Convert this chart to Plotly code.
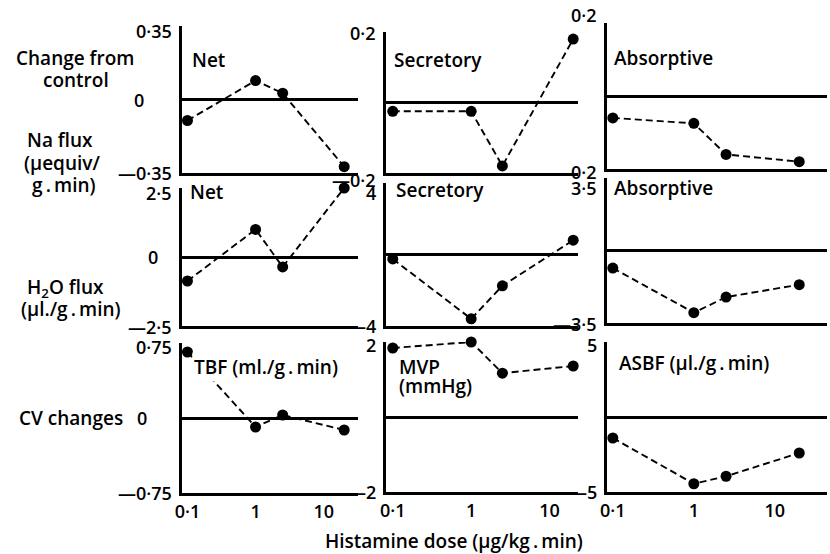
import plotly.graph_objects as go

W, H = 830, 554

# Histamine infusion rates (µg/kg.min)
dose = [0.1, 1, 2.5, 20]

# Na flux, change from control (µequiv/g.min)
na_net = [-0.10, 0.09, 0.03, -0.32]
na_secretory = [-0.025, -0.025, -0.18, 0.18]
na_absorptive = [-0.06, -0.075, -0.16, -0.18]

# H2O flux, change from control (µl./g.min)
h2o_net = [-0.87, 1.0, -0.36, 2.5]
h2o_secretory = [-0.25, -3.6, -1.75, 0.8]
h2o_absorptive = [-0.85, -3.0, -2.25, -1.65]

# Cardiovascular changes
tbf = [0.66, -0.09, 0.03, -0.12]
mvp = [1.84, 2.0, 1.17, 1.36]
asbf = [-1.4, -4.45, -3.95, -2.4]

series = [[na_net, na_secretory, na_absorptive],
          [h2o_net, h2o_secretory, h2o_absorptive],
          [tbf, mvp, asbf]]

# symmetric y limits per panel
y_limits = [[0.35, 0.2, 0.2],
            [2.5, 4, 3.5],
            [0.75, 2, 5]]

x_tick_vals = [0.1, 1, 10]
x_tick_text = ["0·1", "1", "10"]

TS = "\u2009"  # thin space around the multiplication dot in units
panel_titles = [["Net", "Secretory", "Absorptive"],
                ["Net", "Secretory", "Absorptive"],
                [f"TBF (ml./g{TS}.{TS}min)", "MVP", f"ASBF (μl./g{TS}.{TS}min)"]]
extra_titles = [("(mmHg)", 393, 386)]

row_labels = [
    ("Change from", 69, 58), ("control", 70, 80),
    ("Na flux", 53, 140), ("(μequiv/", 55, 163), (f"g{TS}.{TS}min)", 57, 185),
    ("H<sub>2</sub>O flux", 59, 288), (f"(μl./g{TS}.{TS}min)", 65, 309),
    ("CV changes", 65, 418),
]

# layout geometry (pixels)
col_px = [(176, 354), (382, 576), (605, 827)]
col_logrange = [(-1.087, 1.504), (-1.089, 1.364), (-1.073, 1.644)]
panel_ypx = [[(173, 26), (173, 32), (169, 23)],
             [(326, 188), (326, 183), (323, 178)],
             [(493, 343), (492, 342), (492, 342)]]
# vertical nudges (px, up positive) of the top / bottom value labels
label_shift = [[(-5, 0), (-1, -7), (8, -3)],
               [(-5, -1), (-10, 0), (-10, -1)],
               [(-4, 0), (-3, 0), (-3, 0)]]
title_px = [[(185, 60), (388, 60), (610, 58)],
            [(183, 192), (390, 190), (610, 188)],
            [(187, 367), (393, 367), (615, 363)]]
zero_label_px = [(133, 100), (147, 257), (136, 418)]

FONT = "Open Sans"
INK = "black"


def fmt(v):
    s = f"{abs(v):g}".replace(".", "·")
    return ("—" + s) if v < 0 else s


def txt_font(size):
    return dict(family=FONT, size=size, color=INK, weight=600)


fig = go.Figure()
layout = {}
annotations = []

for r in range(3):
    for c in range(3):
        k = r * 3 + c + 1
        xa = "x" if k == 1 else f"x{k}"
        ya = "y" if k == 1 else f"y{k}"
        A = y_limits[r][c]
        x0, x1 = col_px[c]
        yb, yt = panel_ypx[r][c]

        fig.add_trace(go.Scatter(
            x=dose, y=series[r][c], xaxis=xa, yaxis=ya,
            mode="lines+markers", cliponaxis=False, showlegend=False,
            line=dict(color=INK, width=1.9, dash="7px,4px"),
            marker=dict(color=INK, size=11),
        ))

        layout["xaxis" if k == 1 else f"xaxis{k}"] = dict(
            type="log", range=list(col_logrange[c]),
            domain=[x0 / W, x1 / W], anchor=ya,
            showline=True, linecolor=INK, linewidth=3,
            showgrid=False, zeroline=False, ticks="",
            tickvals=x_tick_vals, ticktext=x_tick_text,
            showticklabels=(r == 2), ticklabelstandoff=0,
            tickfont=txt_font(18),
        )
        layout["yaxis" if k == 1 else f"yaxis{k}"] = dict(
            range=[-A, A], domain=[1 - yb / H, 1 - yt / H], anchor=xa,
            showline=True, linecolor=INK, linewidth=3,
            showgrid=False, zeroline=True, zerolinecolor=INK, zerolinewidth=3,
            ticks="", showticklabels=False,
        )

        # value labels at the ends of each y axis
        up, down = label_shift[r][c]
        for val, shift in ((A, up), (-A, down)):
            annotations.append(dict(
                text=fmt(val), x=0, y=val,
                xref=f"{xa} domain", yref=ya,
                xanchor="right", yanchor="middle", xshift=-8, yshift=shift,
                showarrow=False, font=txt_font(18),
            ))

        tx, ty = title_px[r][c]
        annotations.append(dict(
            text=panel_titles[r][c], x=tx / W, y=1 - ty / H,
            xref="paper", yref="paper", xanchor="left", yanchor="middle",
            align="left", showarrow=False,
            bgcolor="white" if (r == 2 and c == 0) else None,
            font=txt_font(19),
        ))

for (label, tx, ty) in extra_titles:
    annotations.append(dict(
        text=label, x=tx / W, y=1 - ty / H, xref="paper", yref="paper",
        xanchor="left", yanchor="middle", showarrow=False,
        font=txt_font(19),
    ))

for (zx, zy) in zero_label_px:
    annotations.append(dict(
        text="0", x=zx / W, y=1 - zy / H, xref="paper", yref="paper",
        xanchor="center", yanchor="middle", showarrow=False,
        font=txt_font(18),
    ))

for (label, lx, ly) in row_labels:
    annotations.append(dict(
        text=label, x=lx / W, y=1 - ly / H, xref="paper", yref="paper",
        xanchor="center", yanchor="middle", showarrow=False,
        font=txt_font(19),
    ))

annotations.append(dict(
    text=f"Histamine dose (μg/kg{TS}.{TS}min)", x=451 / W, y=1 - 541 / H,
    xref="paper", yref="paper", xanchor="center", yanchor="middle",
    showarrow=False, font=txt_font(19),
))

fig.update_layout(
    width=W, height=H,
    margin=dict(l=0, r=0, t=0, b=0),
    paper_bgcolor="white", plot_bgcolor="white",
    annotations=annotations,
    **layout,
)

fig.write_html("out.html")
